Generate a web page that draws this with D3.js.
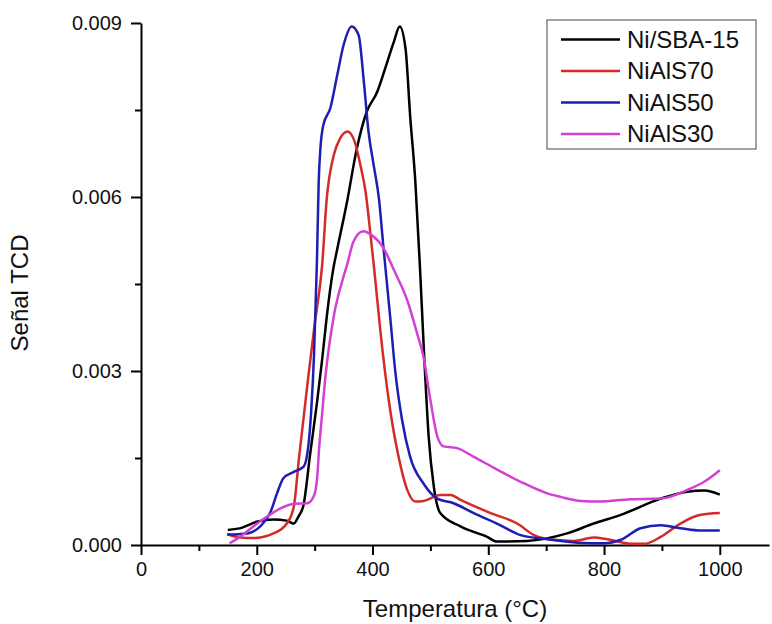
<!DOCTYPE html>
<html>
<head>
<meta charset="utf-8">
<script src="https://cdn.jsdelivr.net/npm/d3@7"></script>
<style>
  body { margin: 0; background: #fff; }
  svg text { font-family: "Liberation Sans", Arial, sans-serif; fill: #111; }
</style>
</head>
<body>
<div id="chart"></div>
<script>
// TPR curves, temperature (°C) and TCD signal
var niSBA15 = [
  [150,0.00026],[175,0.00030],[200,0.00040],[229,0.00044],[252,0.00042],[264,0.00037],[272,0.00049],
  [281,0.00070],[292,0.00155],[304,0.00245],[313,0.00320],[321,0.00394],[332,0.00475],[339,0.00510],
  [356,0.00592],[373,0.00684],[390,0.00747],[408,0.00781],[422,0.00822],[437,0.00868],[447,0.00894],
  [457,0.00856],[465,0.00740],[474,0.00626],[482,0.00478],[489,0.00331],[497,0.00187],[506,0.00100],
  [517,0.00055],[552,0.00032],[598,0.00014],[615,0.00006],[667,0.00007],[736,0.00020],[782,0.00037],
  [829,0.00052],[898,0.00080],[944,0.00092],[973,0.00094],[1000,0.00087]
];
var niAlS70 = [
  [149,0.00019],[171,0.00013],[194,0.00012],[229,0.00020],[252,0.00037],[264,0.00066],[273,0.00150],
  [281,0.00220],[289,0.00290],[300,0.00380],[313,0.00483],[321,0.00598],[333,0.00672],[344,0.00701],
  [357,0.00713],[370,0.00693],[379,0.00655],[388,0.00609],[396,0.00540],[403,0.00475],[414,0.00365],
  [428,0.00250],[445,0.00152],[460,0.00095],[474,0.00075],[488,0.00076],[517,0.00086],[535,0.00086],
  [552,0.00078],[604,0.00055],[650,0.00037],[679,0.00017],[713,0.00009],[748,0.00007],[782,0.00013],
  [806,0.00010],[846,0.00002],[869,0.00002],[898,0.00014],[932,0.00037],[967,0.00052],[1000,0.00055]
];
var niAlS50 = [
  [149,0.00018],[183,0.00020],[206,0.00032],[223,0.00055],[235,0.00089],[246,0.00115],[264,0.00126],
  [281,0.00135],[289,0.00170],[294,0.00230],[299,0.00330],[304,0.00490],[307,0.00626],[310,0.00684],
  [315,0.00724],[327,0.00753],[339,0.00810],[350,0.00862],[364,0.00894],[376,0.00879],[385,0.00799],
  [393,0.00713],[402,0.00655],[411,0.00598],[419,0.00512],[431,0.00388],[439,0.00302],[451,0.00216],
  [465,0.00152],[488,0.00106],[512,0.00080],[540,0.00072],[575,0.00055],[621,0.00034],[656,0.00017],
  [702,0.00010],[754,0.00004],[800,0.00003],[829,0.00009],[863,0.00029],[898,0.00034],[932,0.00029],
  [967,0.00025],[1000,0.00025]
];
var niAlS30 = [
  [153,0.00003],[171,0.00014],[194,0.00032],[218,0.00049],[241,0.00063],[264,0.00071],[287,0.00072],
  [298,0.00083],[304,0.00112],[308,0.00170],[313,0.00227],[318,0.00284],[333,0.00394],[350,0.00463],
  [356,0.00483],[367,0.00523],[384,0.00541],[399,0.00534],[419,0.00512],[437,0.00474],[460,0.00422],
  [477,0.00365],[488,0.00325],[500,0.00250],[512,0.00187],[523,0.00170],[546,0.00167],[575,0.00152],
  [610,0.00133],[656,0.00109],[702,0.00089],[725,0.00083],[760,0.00076],[794,0.00075],[846,0.00079],
  [898,0.00080],[944,0.00095],[973,0.00109],[1000,0.00129]
];
var seriesNames = ["Ni/SBA-15", "NiAlS70", "NiAlS50", "NiAlS30"];
var seriesColors = ["#000000", "#d42a2a", "#1e1eb4", "#d43fd4"];
var xTicks = [0, 200, 400, 600, 800, 1000];
var xMinorTicks = [100, 300, 500, 700, 900];
var yTicks = [0, 0.003, 0.006, 0.009];
var yMinorTicks = [0.0015, 0.0045, 0.0075];

var allSeries = [niSBA15, niAlS70, niAlS50, niAlS30];

var width = 772, height = 624;

var svg = d3.select("#chart").append("svg")
  .attr("width", width)
  .attr("height", height);

svg.append("rect").attr("width", width).attr("height", height).attr("fill", "#fff");

var x = d3.scaleLinear().domain([0, 1085]).range([141, 769]);
var y = d3.scaleLinear().domain([0, 0.009]).range([545, 23]);

// minor ticks first, then major axes on top
svg.append("g")
  .attr("transform", "translate(0," + y(0) + ")")
  .call(d3.axisBottom(x).tickValues(xMinorTicks).tickSize(6).tickFormat(""))
  .call(function(g) { g.select(".domain").remove(); })
  .selectAll("line").attr("stroke", "#000").attr("stroke-width", 2);

svg.append("g")
  .attr("transform", "translate(" + x(0) + ",0)")
  .call(d3.axisLeft(y).tickValues(yMinorTicks).tickSize(6).tickFormat(""))
  .call(function(g) { g.select(".domain").remove(); })
  .selectAll("line").attr("stroke", "#000").attr("stroke-width", 2);

var xAxis = svg.append("g")
  .attr("transform", "translate(0," + y(0) + ")")
  .call(d3.axisBottom(x).tickValues(xTicks).tickSize(10).tickSizeOuter(0).tickPadding(7)
    .tickFormat(d3.format("d")));

var yAxis = svg.append("g")
  .attr("transform", "translate(" + x(0) + ",0)")
  .call(d3.axisLeft(y).tickValues(yTicks).tickSize(10).tickSizeOuter(0).tickPadding(9)
    .tickFormat(d3.format(".3f")));

[xAxis, yAxis].forEach(function(a) {
  a.select(".domain").attr("stroke", "#000").attr("stroke-width", 2);
  a.selectAll(".tick line").attr("stroke", "#000").attr("stroke-width", 2);
  a.selectAll(".tick text").attr("font-size", "20px").attr("fill", "#111")
    .style("font-family", "'Liberation Sans', Arial, sans-serif");
});

var line = d3.line()
  .x(function(d) { return x(d[0]); })
  .y(function(d) { return y(d[1]); })
  .curve(d3.curveMonotoneX);

svg.selectAll(".curve")
  .data(allSeries)
  .enter().append("path")
  .attr("class", "curve")
  .attr("d", line)
  .attr("fill", "none")
  .attr("stroke", function(d, i) { return seriesColors[i]; })
  .attr("stroke-width", 2.5)
  .attr("stroke-linejoin", "round");

// axis titles
svg.append("text")
  .attr("x", 455).attr("y", 617)
  .attr("text-anchor", "middle")
  .attr("font-size", "24px")
  .text("Temperatura (°C)");

svg.append("text")
  .attr("transform", "translate(28,293) rotate(-90)")
  .attr("text-anchor", "middle")
  .attr("font-size", "24px")
  .text("Señal TCD");

// legend
var legend = svg.append("g");
legend.append("rect")
  .attr("x", 547).attr("y", 20)
  .attr("width", 209).attr("height", 129)
  .attr("fill", "#fff")
  .attr("stroke", "#444").attr("stroke-width", 1);

var rows = legend.selectAll(".row")
  .data(seriesNames)
  .enter().append("g")
  .attr("transform", function(d, i) { return "translate(0," + (39.5 + i * 31.5) + ")"; });

rows.append("line")
  .attr("x1", 561).attr("x2", 620)
  .attr("stroke", function(d, i) { return seriesColors[i]; })
  .attr("stroke-width", 2.5);

rows.append("text")
  .attr("x", 627).attr("dy", "0.35em")
  .attr("font-size", "24px")
  .text(function(d) { return d; });
</script>
</body>
</html>
